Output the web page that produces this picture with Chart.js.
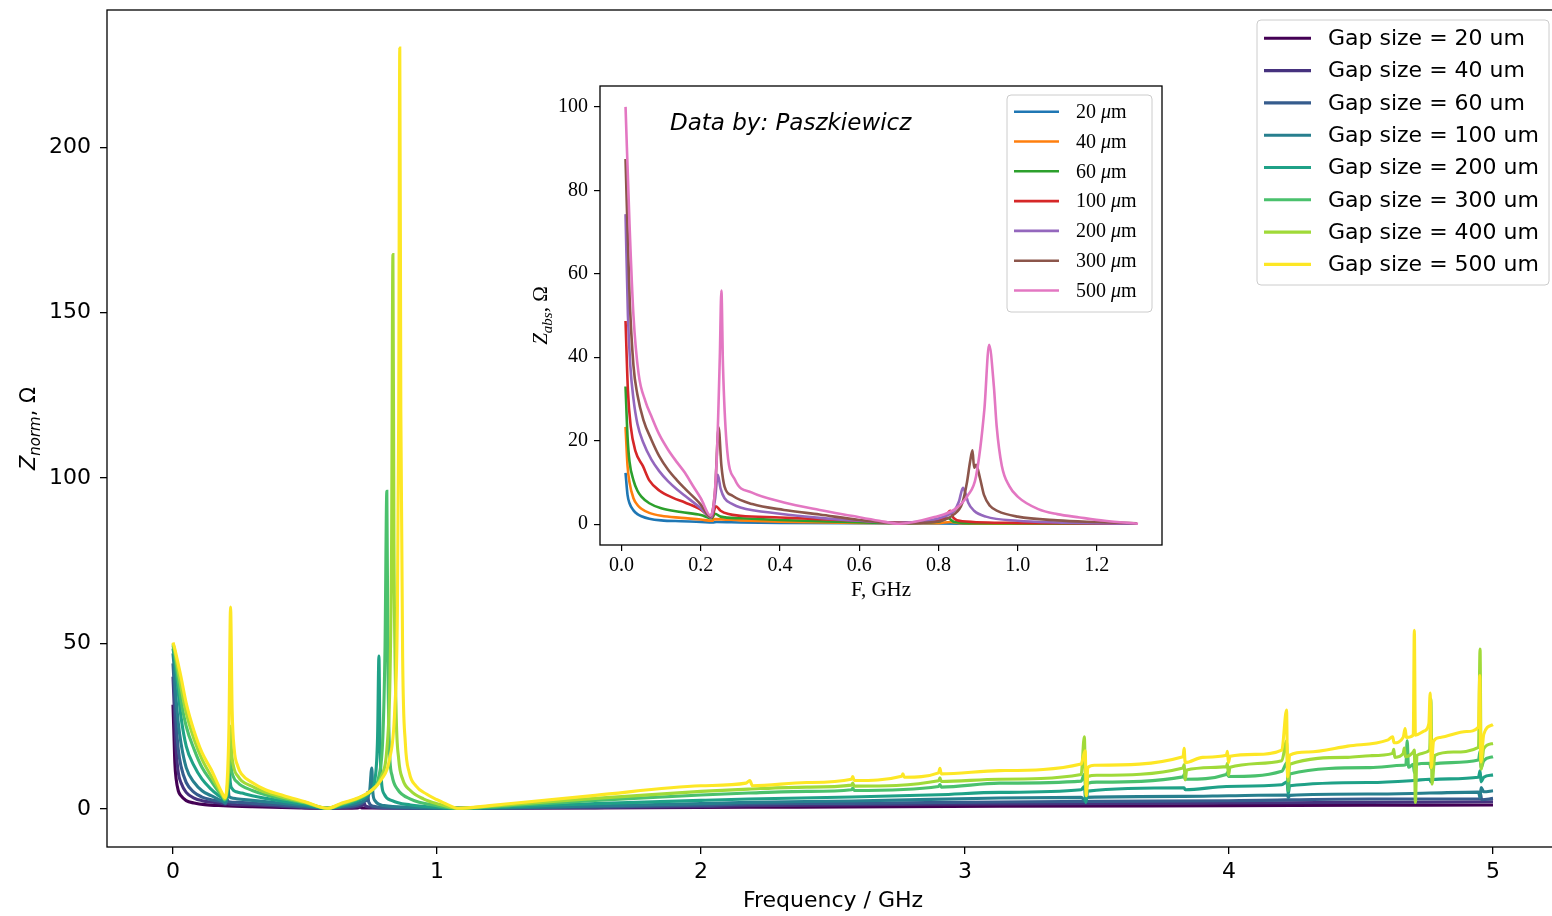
<!DOCTYPE html>
<html>
<head>
<meta charset="utf-8">
<script src="https://cdn.jsdelivr.net/npm/chart.js@4.4.0/dist/chart.umd.min.js"></script>
<style>
  html, body { margin: 0; padding: 0; overflow: hidden; background: #fff; }
  #wrap { position: relative; width: 1552px; height: 916px; overflow: hidden; }
  #mainChart { position: absolute; left: 0; top: 0; }
  #insetChart { position: absolute; left: 520px; top: 76px; }
</style>
</head>
<body>
<div id="wrap">
  <canvas id="mainChart" width="1560" height="916"></canvas>
  <canvas id="insetChart" width="660" height="540"></canvas>
</div>
<script>

// main plot: frequency (GHz) / normalised impedance (Ohm), one list per gap size
const gap20 = [[0, 31.5], [0.003, 24], [0.007, 14], [0.012, 9], [0.02, 5.5], [0.03, 4], [0.05, 2.5], [0.08, 1.8], [0.12, 1.3], [0.19, 1.0], [0.3, 0.7], [0.45, 0.4], [0.585, 0.2], [0.7, 0.3], [0.71, 0.6], [0.715, 0.3], [1.08, 0.2], [1.6, 0.3], [2.18, 0.5], [3.13, 0.8], [4.0, 1.0], [4.534, 1.1], [5.0, 1.2]];

const gap40 = [[0, 40], [0.004, 32], [0.01, 20], [0.02, 11], [0.03, 8], [0.05, 5], [0.08, 3.3], [0.11, 2.5], [0.15, 2], [0.19, 1.6], [0.2, 1.4], [0.205, 1.9], [0.21, 1.5], [0.3, 1.2], [0.4, 0.8], [0.5, 0.4], [0.585, 0.2], [0.65, 0.4], [0.7, 0.7], [0.72, 1.2], [0.725, 1.6], [0.73, 0.8], [0.8, 0.3], [1.08, 0.2], [1.6, 0.4], [2.0, 0.7], [2.18, 1.0], [3.13, 1.5], [4.0, 1.8], [4.534, 2.0], [5.0, 2.2]];

const gap60 = [[0, 44], [0.004, 38], [0.01, 28], [0.02, 18], [0.03, 13], [0.05, 8], [0.08, 5], [0.11, 3.6], [0.144, 2.8], [0.19, 2], [0.2, 1.7], [0.206, 2.8], [0.21, 2.2], [0.25, 2], [0.3, 1.7], [0.4, 1.2], [0.5, 0.6], [0.585, 0.2], [0.65, 0.6], [0.7, 1.2], [0.725, 2.2], [0.733, 3], [0.737, 5], [0.741, 2.2], [0.76, 0.8], [0.85, 0.3], [1.08, 0.2], [1.3, 0.3], [1.6, 0.6], [2.0, 1.1], [2.18, 1.5], [2.57, 1.7], [3.13, 2.1], [3.5, 2.3], [4.0, 2.5], [4.534, 3.0], [4.95, 3.1], [4.953, 4.5], [4.957, 2.8], [5.0, 3.2]];

const gap100 = [[0, 47], [0.004, 43], [0.01, 35], [0.02, 26], [0.03, 20], [0.05, 12.5], [0.08, 8], [0.11, 5.5], [0.144, 4], [0.17, 3], [0.19, 2.2], [0.198, 1.8], [0.204, 3], [0.208, 7], [0.212, 4], [0.22, 3.4], [0.24, 3.1], [0.3, 2.6], [0.4, 1.8], [0.5, 1.0], [0.585, 0.2], [0.65, 0.9], [0.7, 1.8], [0.73, 3], [0.745, 5.5], [0.753, 12.4], [0.757, 5], [0.765, 2.5], [0.8, 1], [0.9, 0.5], [1.08, 0.2], [1.3, 0.4], [1.6, 0.9], [2.0, 1.6], [2.18, 2.0], [2.57, 2.4], [3.13, 3.3], [3.44, 3.5], [3.455, 2.5], [3.46, 3.5], [3.83, 3.8], [4.0, 4.0], [4.22, 4.2], [4.225, 3.4], [4.23, 4.1], [4.534, 4.5], [4.76, 4.8], [4.945, 5.1], [4.951, 3.5], [4.955, 6.5], [4.965, 5.2], [5.0, 5.5]];

const gap200 = [[0, 48.5], [0.005, 46], [0.015, 39], [0.03, 28], [0.05, 19], [0.08, 13], [0.11, 9], [0.144, 6], [0.17, 4.2], [0.188, 3.2], [0.196, 2.5], [0.205, 4], [0.209, 7], [0.213, 13], [0.217, 8], [0.225, 6], [0.24, 5.2], [0.26, 4.8], [0.3, 4], [0.35, 3.2], [0.42, 2.3], [0.5, 1.4], [0.585, 0.2], [0.64, 1.1], [0.7, 2.5], [0.74, 4.5], [0.765, 9], [0.775, 22], [0.78, 46.2], [0.784, 20], [0.79, 8], [0.8, 4.5], [0.83, 2.5], [0.9, 1.2], [1.0, 0.5], [1.08, 0.2], [1.3, 0.7], [1.6, 1.6], [2.0, 2.6], [2.18, 3.0], [2.57, 3.6], [2.9, 4.3], [3.13, 5.0], [3.44, 5.8], [3.452, 6.8], [3.458, 2], [3.465, 5.4], [3.83, 6.4], [3.834, 5.8], [3.99, 6.8], [4.2, 7.3], [4.22, 8.2], [4.224, 4.5], [4.23, 7.0], [4.534, 8.0], [4.7, 8.6], [4.76, 9.0], [4.765, 8.2], [4.77, 8.9], [4.945, 9.6], [4.951, 11.5], [4.955, 8.2], [4.965, 9.6], [5.0, 10.3]];

const gap300 = [[0, 49.5], [0.005, 47.5], [0.015, 42], [0.03, 33], [0.05, 25], [0.08, 18], [0.11, 12.5], [0.144, 8.5], [0.17, 5.5], [0.188, 3.8], [0.196, 2.8], [0.205, 5], [0.211, 11], [0.215, 20], [0.22, 13], [0.23, 9.5], [0.245, 8], [0.26, 7], [0.3, 5.6], [0.35, 4.3], [0.42, 3], [0.5, 1.8], [0.585, 0.2], [0.64, 1.4], [0.7, 3], [0.75, 5.5], [0.78, 10], [0.795, 22], [0.803, 48], [0.81, 96], [0.814, 45], [0.82, 18], [0.83, 10], [0.85, 6], [0.9, 3], [1.0, 1.0], [1.08, 0.2], [1.2, 0.6], [1.3, 1.1], [1.6, 2.6], [2.0, 4.2], [2.18, 4.8], [2.4, 5.3], [2.57, 5.8], [2.575, 6.3], [2.58, 5.6], [2.9, 6.8], [2.905, 7.4], [2.91, 6.6], [3.13, 7.8], [3.44, 8.4], [3.452, 10.5], [3.458, 6], [3.465, 7.8], [3.5, 8.1], [3.826, 9.7], [3.83, 10.4], [3.834, 9.0], [3.99, 10.4], [3.994, 11], [3.998, 9.8], [4.2, 11.4], [4.22, 14], [4.224, 5.5], [4.23, 10.6], [4.534, 12.5], [4.66, 13.2], [4.67, 13.4], [4.675, 20.6], [4.68, 12.6], [4.698, 13.5], [4.702, 11], [4.706, 13.4], [4.76, 13.8], [4.765, 12.3], [4.77, 13.6], [4.945, 14.8], [4.951, 17.5], [4.955, 12.5], [4.965, 14.6], [5.0, 15.8]];

const gap400 = [[0, 50], [0.005, 48.5], [0.015, 44], [0.03, 37], [0.05, 29], [0.08, 21], [0.11, 15], [0.144, 10], [0.17, 6.5], [0.188, 4], [0.196, 3], [0.205, 6], [0.212, 14], [0.217, 25], [0.222, 17], [0.232, 12], [0.245, 10], [0.26, 8.5], [0.3, 6.8], [0.35, 5], [0.42, 3.5], [0.5, 2], [0.585, 0.2], [0.64, 1.6], [0.7, 3.2], [0.75, 5.5], [0.79, 10], [0.81, 18], [0.822, 40], [0.828, 80], [0.833, 167.6], [0.837, 80], [0.845, 30], [0.855, 15], [0.87, 9], [0.9, 5.5], [0.95, 3], [1.0, 1.6], [1.08, 0.2], [1.2, 0.8], [1.3, 1.4], [1.6, 3.2], [2.0, 5.3], [2.18, 6.0], [2.4, 6.6], [2.57, 7.2], [2.575, 7.8], [2.58, 6.9], [2.9, 8.5], [2.905, 9.4], [2.91, 8.3], [3.13, 9.0], [3.44, 10.4], [3.452, 21.8], [3.458, 4], [3.465, 9.8], [3.5, 10.2], [3.826, 12.4], [3.83, 13.4], [3.834, 8.8], [3.84, 11.8], [3.99, 12.8], [3.994, 13.8], [3.998, 10.2], [4.004, 12.6], [4.2, 14.6], [4.218, 20.5], [4.224, 8.5], [4.23, 13.5], [4.45, 15.6], [4.534, 16.1], [4.62, 16.8], [4.624, 18], [4.628, 15.6], [4.66, 16.8], [4.664, 18.4], [4.668, 15.8], [4.698, 17.2], [4.702, 17.8], [4.706, 2], [4.712, 16.2], [4.76, 17.8], [4.765, 33.2], [4.769, 7.5], [4.78, 16.2], [4.85, 17.2], [4.945, 18.6], [4.951, 48.3], [4.955, 12], [4.965, 18.2], [5.0, 19.8]];

const gap500 = [[0, 50.3], [0.005, 49], [0.015, 45.5], [0.03, 40], [0.05, 32], [0.08, 23.5], [0.11, 17], [0.144, 12], [0.17, 7.5], [0.188, 4.5], [0.196, 3.4], [0.205, 8], [0.212, 25], [0.218, 61], [0.224, 30], [0.232, 18], [0.245, 13], [0.26, 10.5], [0.3, 8], [0.35, 5.8], [0.42, 4], [0.5, 2.2], [0.585, 0.2], [0.64, 1.8], [0.7, 3.3], [0.75, 5.5], [0.79, 9], [0.82, 15], [0.84, 30], [0.85, 60], [0.855, 120], [0.859, 230], [0.863, 120], [0.87, 45], [0.88, 20], [0.895, 11], [0.92, 7], [0.96, 4.5], [1.0, 2.8], [1.04, 1.3], [1.08, 0.2], [1.2, 1], [1.3, 1.8], [1.6, 4.1], [2.0, 7.0], [2.17, 7.8], [2.185, 8.6], [2.195, 7.0], [2.4, 8.0], [2.57, 9.0], [2.575, 9.8], [2.58, 8.6], [2.76, 9.9], [2.765, 10.6], [2.77, 9.6], [2.9, 10.9], [2.905, 12.3], [2.91, 10.6], [3.13, 11.6], [3.44, 13.6], [3.455, 17.6], [3.46, 4], [3.465, 12.5], [3.49, 13.2], [3.826, 15.8], [3.83, 18.3], [3.834, 14.0], [3.9, 15.6], [3.99, 16.2], [3.994, 17.4], [3.998, 14.0], [4.004, 15.9], [4.1, 16.5], [4.2, 17.8], [4.218, 29.9], [4.222, 9.7], [4.23, 16.3], [4.3, 17.2], [4.45, 19], [4.6, 20.8], [4.62, 21.8], [4.625, 20], [4.66, 21.7], [4.667, 24.3], [4.672, 21.6], [4.698, 22.3], [4.702, 54], [4.706, 22.3], [4.74, 23.6], [4.757, 25.8], [4.762, 35], [4.766, 12.5], [4.775, 20.5], [4.8, 21.6], [4.9, 23.4], [4.945, 24.8], [4.95, 40.3], [4.954, 14.2], [4.965, 22.6], [5.0, 25.5]];

const gapLabels = ['Gap size = 20 um', 'Gap size = 40 um', 'Gap size = 60 um', 'Gap size = 100 um', 'Gap size = 200 um', 'Gap size = 300 um', 'Gap size = 400 um', 'Gap size = 500 um'];
const gapSeries = [gap20, gap40, gap60, gap100, gap200, gap300, gap400, gap500];
const gapColors = ['#440154', '#46327e', '#365c8d', '#277f8e', '#1fa187', '#4ac16d', '#a0da39', '#fde725'];
const mainXTicks = [0, 1, 2, 3, 4, 5];
const mainYTicks = [0, 50, 100, 150, 200];

// inset: |Z| (Ohm) against F (GHz)
const abs20 = [[0.01, 12.3], [0.015, 7.0], [0.02, 5.0], [0.03, 3.3], [0.04, 2.4], [0.05, 1.9], [0.07, 1.3], [0.1, 0.9], [0.15, 0.7], [0.2, 0.55], [0.23, 0.4], [0.24, 0.5], [0.3, 0.4], [0.4, 0.3], [0.6, 0.2], [0.8, 0.15], [1.0, 0.1], [1.3, 0.1]];
const abs40 = [[0.01, 23.3], [0.015, 14], [0.02, 10], [0.03, 6.2], [0.04, 4.6], [0.05, 3.7], [0.07, 2.7], [0.1, 2.0], [0.15, 1.5], [0.2, 1.1], [0.228, 0.8], [0.235, 1.2], [0.3, 0.9], [0.4, 0.6], [0.6, 0.3], [0.8, 0.25], [0.83, 0.5], [0.86, 0.2], [1.0, 0.1], [1.3, 0.1]];
const abs60 = [[0.01, 33], [0.015, 21], [0.02, 15], [0.03, 10.5], [0.04, 8], [0.05, 6.6], [0.07, 5], [0.1, 3.8], [0.15, 2.9], [0.2, 2.2], [0.228, 1.4], [0.236, 2.5], [0.25, 1.8], [0.3, 1.4], [0.4, 1.0], [0.5, 0.7], [0.7, 0.3], [0.8, 0.6], [0.825, 1.4], [0.84, 0.5], [0.9, 0.2], [1.3, 0.1]];
const abs100 = [[0.01, 48.7], [0.016, 32], [0.023, 23.5], [0.035, 17.5], [0.054, 13.9], [0.07, 10.5], [0.096, 8.0], [0.13, 6.3], [0.16, 5.2], [0.2, 3.5], [0.228, 1.6], [0.238, 4.3], [0.25, 3.2], [0.27, 2.4], [0.3, 2.0], [0.4, 1.6], [0.5, 1.2], [0.6, 0.8], [0.7, 0.4], [0.78, 0.7], [0.815, 1.5], [0.83, 3.2], [0.838, 1.5], [0.86, 0.7], [1.0, 0.3], [1.3, 0.1]];
const abs200 = [[0.01, 74.3], [0.016, 50], [0.022, 38], [0.03, 30], [0.04, 24], [0.055, 19.5], [0.075, 15.5], [0.095, 12.7], [0.117, 10.3], [0.14, 8.3], [0.16, 6.8], [0.2, 3.8], [0.226, 1.6], [0.236, 6], [0.243, 11.8], [0.25, 8.5], [0.26, 6.2], [0.28, 4.8], [0.3, 4.0], [0.4, 2.5], [0.5, 1.5], [0.6, 0.8], [0.7, 0.3], [0.78, 0.9], [0.82, 2], [0.84, 3.2], [0.852, 5.5], [0.862, 8.7], [0.868, 7.5], [0.875, 5.2], [0.89, 3.2], [0.92, 1.8], [1.0, 0.8], [1.1, 0.4], [1.3, 0.1]];
const abs300 = [[0.01, 87.5], [0.02, 55], [0.03, 38], [0.04, 31], [0.055, 25], [0.075, 20.3], [0.095, 16.3], [0.117, 13.1], [0.14, 10.5], [0.16, 8.5], [0.2, 4.7], [0.224, 1.8], [0.236, 8], [0.245, 23.2], [0.252, 14], [0.26, 9], [0.28, 6.8], [0.33, 4.8], [0.41, 3.4], [0.5, 2.3], [0.6, 1.0], [0.7, 0.2], [0.79, 0.5], [0.84, 2.4], [0.86, 5], [0.872, 10], [0.88, 15], [0.886, 17.7], [0.89, 13.5], [0.895, 14.2], [0.905, 11], [0.915, 7], [0.93, 4.4], [0.95, 3.1], [1.0, 1.8], [1.1, 0.9], [1.2, 0.5], [1.3, 0.2]];
const abs500 = [[0.01, 100], [0.02, 72], [0.03, 50], [0.043, 36], [0.06, 29.5], [0.075, 25.9], [0.095, 21.5], [0.117, 17.9], [0.14, 14.8], [0.16, 12.3], [0.18, 9.2], [0.2, 6.2], [0.225, 2.0], [0.24, 15], [0.248, 40], [0.252, 56], [0.256, 38], [0.265, 19.5], [0.286, 10.7], [0.328, 7.6], [0.41, 5.2], [0.5, 3.4], [0.58, 2.0], [0.65, 0.8], [0.7, 0.1], [0.79, 1.7], [0.842, 3.6], [0.875, 7], [0.895, 11.5], [0.916, 27.5], [0.928, 43], [0.94, 33], [0.947, 23.5], [0.96, 14], [0.979, 9.1], [1.0, 6.6], [1.052, 3.6], [1.1, 2.4], [1.157, 1.6], [1.22, 0.8], [1.304, 0.1]];

const absLabels = ['20', '40', '60', '100', '200', '300', '500'];
const absSeries = [abs20, abs40, abs60, abs100, abs200, abs300, abs500];
const absColors = ['#1f77b4', '#ff7f0e', '#2ca02c', '#d62728', '#9467bd', '#8c564b', '#e377c2'];
const insetXTicks = [0, 0.2, 0.4, 0.6, 0.8, 1.0, 1.2];
const insetYTicks = [0, 20, 40, 60, 80, 100];

const sans = '"DejaVu Sans", sans-serif';
const serif = '"Liberation Serif", "DejaVu Serif", serif';

let chart = {

  onload: function () {

    chart.mainChart();

    chart.insetChart();
  },

  toPoints: function (list) {

    return list.map(p => ({ x: p[0], y: p[1] }));
  },

  // no extra room for the outer tick labels, the box sizes are fixed
  noPadding: function (axis) {

    axis.paddingTop = 0;
    axis.paddingBottom = 0;
    axis.paddingLeft = 0;
    axis.paddingRight = 0;
  },

  // axes box drawn like a matplotlib frame
  framePlugin: {
    id: 'frame',
    afterDatasetsDraw: function (c, args, opts) {
      let a = c.chartArea;
      let ctx = c.ctx;
      ctx.save();
      ctx.strokeStyle = '#000';
      ctx.lineWidth = opts.width || 1.3;
      ctx.strokeRect(a.left, a.top, a.right - a.left, a.bottom - a.top);
      ctx.restore();
    }
  },

  drawSubLabel: function (ctx, cx, cy, family, size, base, sub, tail) {

    ctx.save();
    ctx.translate(cx, cy);
    ctx.rotate(-Math.PI / 2);
    ctx.fillStyle = '#000';
    ctx.textBaseline = 'alphabetic';

    let big = 'italic ' + size + 'px ' + family;
    let small = 'italic ' + Math.round(size * 0.7) + 'px ' + family;
    let normal = size + 'px ' + family;

    ctx.font = big;
    let w1 = ctx.measureText(base).width;
    ctx.font = small;
    let w2 = ctx.measureText(sub).width;
    ctx.font = normal;
    let w3 = ctx.measureText(tail).width;

    let x = -(w1 + w2 + w3) / 2;
    let y = size * 0.35;

    ctx.font = big;
    ctx.fillText(base, x, y);
    ctx.font = small;
    ctx.fillText(sub, x + w1, y + size * 0.22);
    ctx.font = normal;
    ctx.fillText(tail, x + w1 + w2, y);
    ctx.restore();
  },

  mainChart: function () {

    let datasets = gapSeries.map((s, i) => ({
      label: gapLabels[i],
      data: chart.toPoints(s),
      borderColor: gapColors[i],
      borderWidth: 3.1,
      pointRadius: 0,
      cubicInterpolationMode: 'monotone',
      fill: false,
      order: gapSeries.length - i
    }));

    let decorations = {
      id: 'mainDecorations',
      afterDraw: function (c) {
        let ctx = c.ctx;

        chart.drawSubLabel(ctx, 28, 428.5, sans, 21, 'Z', 'norm', ', \u03a9');

        // legend, upper right
        ctx.save();
        ctx.fillStyle = 'rgba(255,255,255,0.8)';
        ctx.strokeStyle = '#cccccc';
        ctx.lineWidth = 1;
        ctx.beginPath();
        ctx.roundRect(1257, 20, 292, 265, 4);
        ctx.fill();
        ctx.stroke();

        ctx.font = '22px ' + sans;
        ctx.textBaseline = 'middle';
        gapLabels.forEach((t, i) => {
          let y = 38.3 + i * 32.3;
          ctx.strokeStyle = gapColors[i];
          ctx.lineWidth = 3.1;
          ctx.beginPath();
          ctx.moveTo(1264, y);
          ctx.lineTo(1311, y);
          ctx.stroke();
          ctx.fillStyle = '#000';
          ctx.fillText(t, 1328, y + 1);
        });
        ctx.restore();
      }
    };

    let ctx = document.getElementById('mainChart').getContext('2d');
    let mainChart = new Chart(ctx, {
      type: 'line',
      data: { datasets: datasets },
      options: {
        responsive: false,
        animation: false,
        layout: { padding: { top: 10, right: 1, left: 0, bottom: 0 } },
        plugins: {
          legend: { display: false },
          tooltip: { enabled: false },
          frame: { width: 1.3 }
        },
        scales: {
          x: {
            type: 'linear',
            min: -0.25,
            max: 5.25,
            afterBuildTicks: axis => { axis.ticks = mainXTicks.map(v => ({ value: v })); },
            afterFit: axis => { axis.height = 69; chart.noPadding(axis); },
            border: { display: false },
            grid: { drawOnChartArea: false, drawTicks: true, tickLength: 7, color: '#000', lineWidth: 1.3 },
            ticks: { color: '#000', padding: 5, maxRotation: 0, font: { family: sans, size: 22 } },
            title: { display: true, text: 'Frequency / GHz', color: '#000', font: { family: sans, size: 22 }, padding: { top: 0, bottom: 2 } }
          },
          y: {
            min: -11.5,
            max: 241.5,
            afterBuildTicks: axis => { axis.ticks = mainYTicks.map(v => ({ value: v })); },
            afterFit: axis => { axis.width = 107; chart.noPadding(axis); },
            border: { display: false },
            grid: { drawOnChartArea: false, drawTicks: true, tickLength: 7, color: '#000', lineWidth: 1.3 },
            ticks: { color: '#000', padding: 9, font: { family: sans, size: 22 } }
          }
        }
      },
      plugins: [chart.framePlugin, decorations]
    });
  },

  insetChart: function () {

    let datasets = absSeries.map((s, i) => ({
      label: absLabels[i] + ' \u03bcm',
      data: chart.toPoints(s),
      borderColor: absColors[i],
      borderWidth: 2.6,
      pointRadius: 0,
      cubicInterpolationMode: 'monotone',
      fill: false,
      order: absSeries.length - i
    }));

    let background = {
      id: 'insetBackground',
      beforeDraw: function (c) {
        let a = c.chartArea;
        c.ctx.save();
        c.ctx.fillStyle = '#fff';
        c.ctx.fillRect(a.left, a.top, a.right - a.left, a.bottom - a.top);
        c.ctx.restore();
      }
    };

    let decorations = {
      id: 'insetDecorations',
      afterDraw: function (c) {
        let ctx = c.ctx;

        chart.drawSubLabel(ctx, 20, 239.5, serif, 21, 'Z', 'abs', ', \u03a9');

        ctx.save();
        ctx.fillStyle = '#000';
        ctx.textBaseline = 'middle';
        ctx.font = 'italic 23px ' + sans;
        ctx.fillText('Data by: Paszkiewicz', 150, 48);

        // legend, upper right of the inset
        ctx.fillStyle = 'rgba(255,255,255,0.8)';
        ctx.strokeStyle = '#cccccc';
        ctx.lineWidth = 1;
        ctx.beginPath();
        ctx.roundRect(487, 19, 145, 217, 4);
        ctx.fill();
        ctx.stroke();

        absLabels.forEach((t, i) => {
          let y = 35.7 + i * 29.8;
          ctx.strokeStyle = absColors[i];
          ctx.lineWidth = 2.6;
          ctx.beginPath();
          ctx.moveTo(494, y);
          ctx.lineTo(539, y);
          ctx.stroke();
          ctx.fillStyle = '#000';
          ctx.font = '20px ' + serif;
          let x = 556;
          ctx.fillText(t + ' ', x, y + 1);
          x += ctx.measureText(t + ' ').width;
          ctx.font = 'italic 20px ' + serif;
          ctx.fillText('\u03bc', x, y + 1);
          x += ctx.measureText('\u03bc').width;
          ctx.font = '20px ' + serif;
          ctx.fillText('m', x, y + 1);
        });
        ctx.restore();
      }
    };

    let ctx = document.getElementById('insetChart').getContext('2d');
    let insetChart = new Chart(ctx, {
      type: 'line',
      data: { datasets: datasets },
      options: {
        responsive: false,
        animation: false,
        layout: { padding: { top: 10, right: 18, left: 0, bottom: 0 } },
        plugins: {
          legend: { display: false },
          tooltip: { enabled: false },
          frame: { width: 1.3 }
        },
        scales: {
          x: {
            type: 'linear',
            min: -0.0545,
            max: 1.3645,
            afterBuildTicks: axis => { axis.ticks = insetXTicks.map(v => ({ value: v })); },
            afterFit: axis => { axis.height = 71; chart.noPadding(axis); },
            border: { display: false },
            grid: { drawOnChartArea: false, drawTicks: true, tickLength: 6, color: '#000', lineWidth: 1.2 },
            ticks: { color: '#000', padding: 3, maxRotation: 0, font: { family: serif, size: 20 }, callback: v => v.toFixed(1) },
            title: { display: true, text: 'F, GHz', color: '#000', font: { family: serif, size: 21 }, padding: { top: 0, bottom: 13 } }
          },
          y: {
            min: -5,
            max: 105,
            afterBuildTicks: axis => { axis.ticks = insetYTicks.map(v => ({ value: v })); },
            afterFit: axis => { axis.width = 80; chart.noPadding(axis); },
            border: { display: false },
            grid: { drawOnChartArea: false, drawTicks: true, tickLength: 6, color: '#000', lineWidth: 1.2 },
            ticks: { color: '#000', padding: 6, font: { family: serif, size: 20 } }
          }
        }
      },
      plugins: [background, chart.framePlugin, decorations]
    });
  }
}

chart.onload();

</script>
</body>
</html>
